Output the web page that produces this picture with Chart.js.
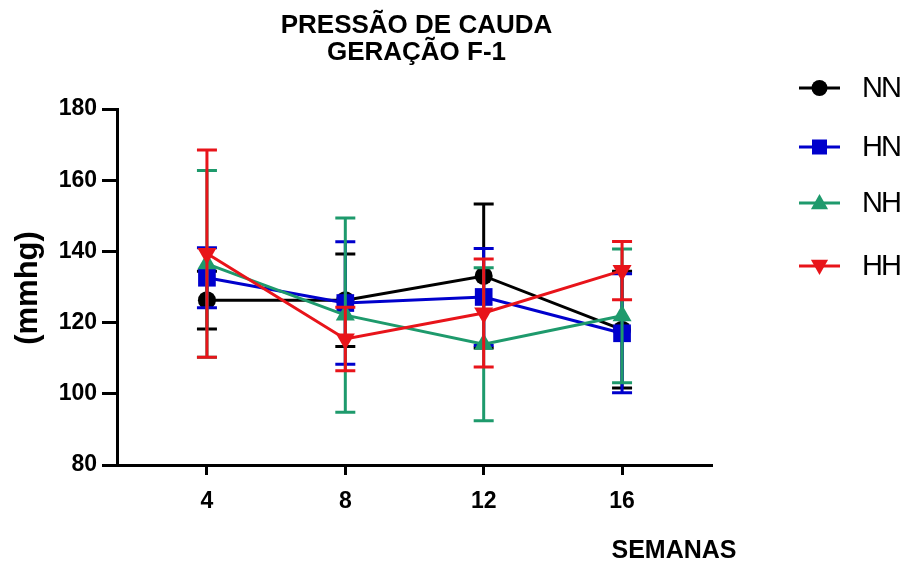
<!DOCTYPE html>
<html>
<head>
<meta charset="utf-8">
<script src="https://cdn.jsdelivr.net/npm/chart.js"></script>
<style>
  html, body { margin: 0; padding: 0; background: #fff; }
  #wrap { width: 908px; height: 562px; }
</style>
</head>
<body>
<div id="wrap"><canvas id="c" width="908" height="562"></canvas></div>
<script>
// ---- data ----
const weeks = [4, 8, 12, 16];
const yTicks = [80, 100, 120, 140, 160, 180];
const seriesNames = ['NN', 'HN', 'NH', 'HH'];

const nnMean = [126.3, 126.3, 133.1, 118.0];
const nnErr  = [8.1, 13.0, 20.2, 16.4];
const hnMean = [132.6, 125.5, 127.2, 117.0];
const hnErr  = [8.4, 17.2, 13.6, 16.7];
const nhMean = [136.5, 122.1, 113.9, 121.9];
const nhErr  = [26.2, 27.3, 21.5, 18.8];
const hhMean = [139.4, 115.4, 122.7, 134.6];
const hhErr  = [29.1, 8.9, 15.2, 8.2];

const titleLines = ['PRESSÃO DE CAUDA', 'GERAÇÃO F-1'];
const yTitle = '(mmhg)';
const xTitle = 'SEMANAS';

// ---- styling ----
const COLORS = ['#000000', '#0000CC', '#1E9A6C', '#E8141A'];
const STYLES = [
  { pointStyle: 'circle', radius: 9, rotation: 0 },
  { pointStyle: 'rect', radius: 12.5, rotation: 0 },
  { pointStyle: 'triangle', radius: 11, rotation: 0 },
  { pointStyle: 'triangle', radius: 11, rotation: 180 }
];
const means = [nnMean, hnMean, nhMean, hhMean];
const errs = [nnErr, hnErr, nhErr, hhErr];
const FONT = "'Liberation Sans', Arial, Helvetica, sans-serif";

const datasets = seriesNames.map((name, i) => ({
  label: name,
  data: weeks.map((w, j) => ({ x: w, y: means[i][j] })),
  errors: errs[i],
  borderColor: COLORS[i],
  backgroundColor: COLORS[i],
  pointBackgroundColor: COLORS[i],
  pointBorderColor: COLORS[i],
  pointBorderWidth: 0,
  pointStyle: STYLES[i].pointStyle,
  pointRadius: STYLES[i].radius,
  pointRotation: STYLES[i].rotation,
  pointHoverRadius: STYLES[i].radius,
  borderWidth: 3,
  showLine: true,
  tension: 0,
  fill: false,
  order: seriesNames.length - 1 - i
}));

// error bars drawn right before each dataset, so later series sit on top
const errorBars = {
  id: 'errorBars',
  beforeDatasetDraw(chart, args) {
    const ds = chart.data.datasets[args.index];
    const meta = args.meta;
    const ys = chart.scales.y;
    const ctx = chart.ctx;
    ctx.save();
    ctx.strokeStyle = ds.borderColor;
    ctx.lineWidth = 3;
    ctx.lineCap = 'butt';
    meta.data.forEach((pt, j) => {
      const m = ds.data[j].y, e = ds.errors[j];
      const yTop = ys.getPixelForValue(m + e);
      const yBot = ys.getPixelForValue(m - e);
      const x = pt.x;
      ctx.beginPath();
      ctx.moveTo(x, yTop); ctx.lineTo(x, yBot);
      ctx.moveTo(x - 10, yTop); ctx.lineTo(x + 10, yTop);
      ctx.moveTo(x - 10, yBot); ctx.lineTo(x + 10, yBot);
      ctx.stroke();
    });
    ctx.restore();
  }
};

function drawMarker(ctx, style, x, y, r, color) {
  ctx.save();
  ctx.fillStyle = color;
  ctx.beginPath();
  if (style.pointStyle === 'circle') {
    ctx.arc(x, y, r, 0, Math.PI * 2);
  } else if (style.pointStyle === 'rect') {
    ctx.rect(x - r, y - r, 2 * r, 2 * r);
  } else {
    const s = style.rotation === 180 ? -1 : 1;
    ctx.moveTo(x, y - s * r);
    ctx.lineTo(x + r * 0.95, y + s * r * 0.7);
    ctx.lineTo(x - r * 0.95, y + s * r * 0.7);
    ctx.closePath();
  }
  ctx.fill();
  ctx.restore();
}

const decor = {
  id: 'decor',
  afterDraw(chart) {
    const ctx = chart.ctx;
    const area = chart.chartArea;
    ctx.save();
    ctx.fillStyle = '#000';
    // title
    ctx.font = 'bold 26px ' + FONT;
    ctx.textAlign = 'center';
    ctx.textBaseline = 'middle';
    const cx = (area.left + area.right) / 2 + 2;
    ctx.fillText(titleLines[0], cx, 26);
    ctx.fillText(titleLines[1], cx, 53);
    // x title
    ctx.font = 'bold 25px ' + FONT;
    ctx.fillText(xTitle, 674, 551);
    // y title
    ctx.save();
    ctx.translate(28, 288);
    ctx.rotate(-Math.PI / 2);
    ctx.font = 'bold 31px ' + FONT;
    ctx.fillText(yTitle, 0, 0);
    ctx.restore();
    // legend
    const legendY = [88, 147, 203, 266];
    ctx.font = '29px ' + FONT;
    ctx.textAlign = 'left';
    if ('letterSpacing' in ctx) ctx.letterSpacing = '-2px';
    seriesNames.forEach((name, i) => {
      const y = legendY[i];
      ctx.strokeStyle = COLORS[i];
      ctx.lineWidth = 3;
      ctx.beginPath();
      ctx.moveTo(799, y); ctx.lineTo(840, y);
      ctx.stroke();
      const r = i === 0 ? 8 : (i === 1 ? 7.5 : 9);
      drawMarker(ctx, STYLES[i], 819.5, y, r, COLORS[i]);
      ctx.fillStyle = '#000';
      ctx.fillText(name, 862, y + 1);
    });
    ctx.restore();
  }
};

new Chart(document.getElementById('c'), {
  type: 'line',
  data: { datasets },
  options: {
    responsive: false,
    animation: false,
    devicePixelRatio: 1,
    layout: { padding: { top: 109, right: 196, left: 0, bottom: 0 } },
    plugins: {
      legend: { display: false },
      title: { display: false },
      tooltip: { enabled: false }
    },
    scales: {
      x: {
        type: 'linear',
        min: 1.4,
        max: 18.6,
        afterFit(s) { s.height = 97; },
        afterBuildTicks(s) { s.ticks = weeks.map(v => ({ value: v })); },
        ticks: {
          font: { family: FONT, size: 23, weight: 'bold' },
          color: '#000',
          padding: 13
        },
        grid: {
          drawOnChartArea: false,
          drawTicks: true,
          tickLength: 10,
          tickWidth: 3,
          tickColor: '#000',
          color: '#000'
        },
        border: { display: true, color: '#000', width: 3 }
      },
      y: {
        type: 'linear',
        min: 80,
        max: 180,
        afterFit(s) { s.width = 117; },
        afterBuildTicks(s) { s.ticks = yTicks.map(v => ({ value: v })); },
        ticks: {
          font: { family: FONT, size: 23, weight: 'bold' },
          color: '#000',
          padding: 5
        },
        grid: {
          drawOnChartArea: false,
          drawTicks: true,
          tickLength: 15,
          tickWidth: 3,
          tickColor: '#000',
          color: '#000'
        },
        border: { display: true, color: '#000', width: 3 }
      }
    }
  },
  plugins: [errorBars, decor]
});
</script>
</body>
</html>
